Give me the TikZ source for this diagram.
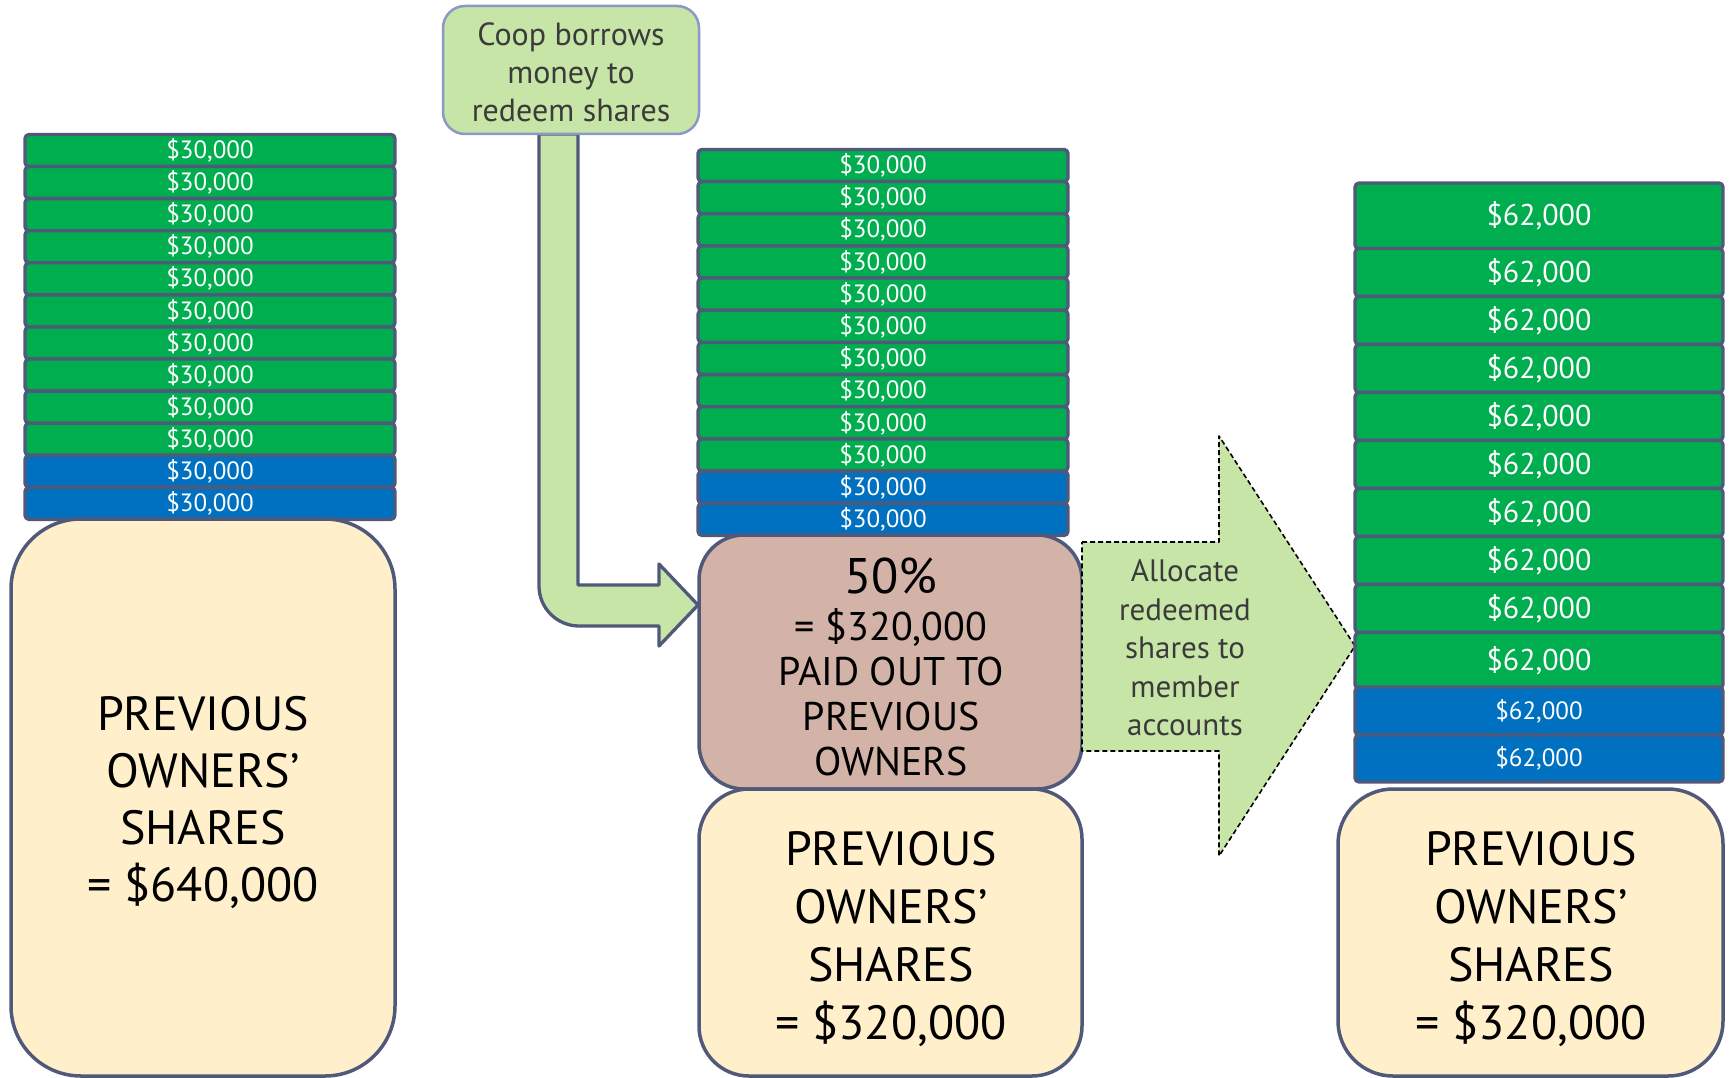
\documentclass[tikz,border=0pt]{standalone}
\usepackage{fontspec}
\setmainfont{PT Sans}
\definecolor{sgreen}{HTML}{00AD4F}
\definecolor{sblue}{HTML}{0070C0}
\definecolor{bord}{HTML}{50597A}
\definecolor{cream}{HTML}{FFF0CB}
\definecolor{brownish}{HTML}{D3B3A7}
\definecolor{lgreen}{HTML}{C7E5A7}
\definecolor{coopbord}{HTML}{8C98C6}
\definecolor{dtext}{HTML}{3B3B3B}
\begin{document}
\begin{tikzpicture}[x=1pt,y=-1pt,line join=round,
  bar/.style={draw=bord,line width=3.3pt,rounded corners=4pt,inner sep=0pt,text=white},
  smallfont/.style={font=\fontsize{25}{25}\selectfont},
  bigval/.style={font=\fontsize{30}{30}\selectfont},
  owner/.style={draw=bord,line width=3.5pt,fill=cream,inner sep=0pt,align=center},
  ownertext/.style={align=center,font=\fontsize{48}{57}\selectfont,text=black},
  gtext/.style={align=center,text=dtext}]
\useasboundingbox (0,0) rectangle (1731,1078);

% ---- left column ----
\foreach \i in {1,...,12}{
  \pgfmathsetmacro\yy{134+32.08*(\i-1)+16.5}
  \ifnum\i>10 \def\cc{sblue}\else\def\cc{sgreen}\fi
  \node[bar,smallfont,fill=\cc,minimum width=370pt,minimum height=32.08pt] (L\i) at (210,\yy) {\$30,000};
}
\node[owner,rounded corners=70pt,minimum width=384pt,minimum height=557pt] (LY) at (203,797.5) {};
\node[ownertext] (LYt) at (203,802) {PREVIOUS\\OWNERS’\\SHARES\\= \$640,000};

% ---- bent arrow ----
\draw[draw=bord,line width=3.3pt,fill=lgreen]
  (578,134) -- (578,585) -- (659,585) -- (659,564) -- (698,605) -- (659,646) -- (659,626)
  -- (579,626) .. controls (557,626) and (539,608) .. (539,586) -- (539,134) -- cycle;

% ---- coop box ----
\node[draw=coopbord,line width=2.5pt,fill=lgreen,rounded corners=22pt,minimum width=256pt,minimum height=128pt,inner sep=0pt] (coop) at (571,70) {};
\node[gtext,font=\fontsize{32}{38}\selectfont] (coopt) at (571,72) {Coop borrows\\money to\\redeem shares};

% ---- middle column ----
\foreach \i in {1,...,12}{
  \pgfmathsetmacro\yy{149+32.17*(\i-1)+16.5}
  \ifnum\i>10 \def\cc{sblue}\else\def\cc{sgreen}\fi
  \node[bar,smallfont,fill=\cc,minimum width=370pt,minimum height=32.17pt] (M\i) at (883,\yy) {\$30,000};
}
\node[draw=bord,line width=3.5pt,fill=brownish,rounded corners=45pt,minimum width=383pt,minimum height=254pt,inner sep=0pt] (MB) at (890.5,662) {};
\node[align=center,font=\fontsize{40}{45}\selectfont] (MBt) at (891,667)
  {{\fontsize{50}{50}\selectfont 50\%}\\[2pt]= \$320,000\\PAID OUT TO\\PREVIOUS\\OWNERS};
\node[owner,rounded corners=50pt,minimum width=383pt,minimum height=287pt] (MY) at (890.5,932.5) {};
\node[ownertext,font=\fontsize{48}{58}\selectfont] (MYt) at (891,939) {PREVIOUS\\OWNERS’\\SHARES\\= \$320,000};

% ---- dashed block arrow ----
\draw[line width=1.6pt,fill=lgreen,dash pattern=on 5pt off 3pt]
  (1082,542) -- (1219,542) -- (1219,436) -- (1355,646) -- (1219,856) -- (1219,751) -- (1082,751) -- cycle;
\node[gtext,font=\fontsize{31}{38.5}\selectfont] (alloc) at (1185,648) {Allocate\\redeemed\\shares to\\member\\accounts};

% ---- right column ----
\node[bar,bigval,fill=sgreen,minimum width=368pt,minimum height=66pt] (R1) at (1539,216) {\$62,000};
\foreach \t/\b [count=\i from 2] in {247/295,295/343,343/391,391/439,439/487,487/535,535/583,583/631,631/687}{
  \pgfmathsetmacro\yy{(\t+\b)/2+1.5}
  \pgfmathsetmacro\hh{\b-\t}
  \node[bar,bigval,fill=sgreen,minimum width=368pt,minimum height=\hh pt] (R\i) at (1539,\yy) {\$62,000};
}
\node[bar,smallfont,fill=sblue,minimum width=368pt,minimum height=48pt] (R11) at (1539,711) {\$62,000};
\node[bar,smallfont,fill=sblue,minimum width=368pt,minimum height=47pt] (R12) at (1539,758.5) {\$62,000};
\node[owner,rounded corners=55pt,minimum width=385pt,minimum height=287pt] (RY) at (1530.5,932.5) {};
\node[ownertext,font=\fontsize{48}{58}\selectfont] (RYt) at (1531,939) {PREVIOUS\\OWNERS’\\SHARES\\= \$320,000};
\end{tikzpicture}
\end{document}
